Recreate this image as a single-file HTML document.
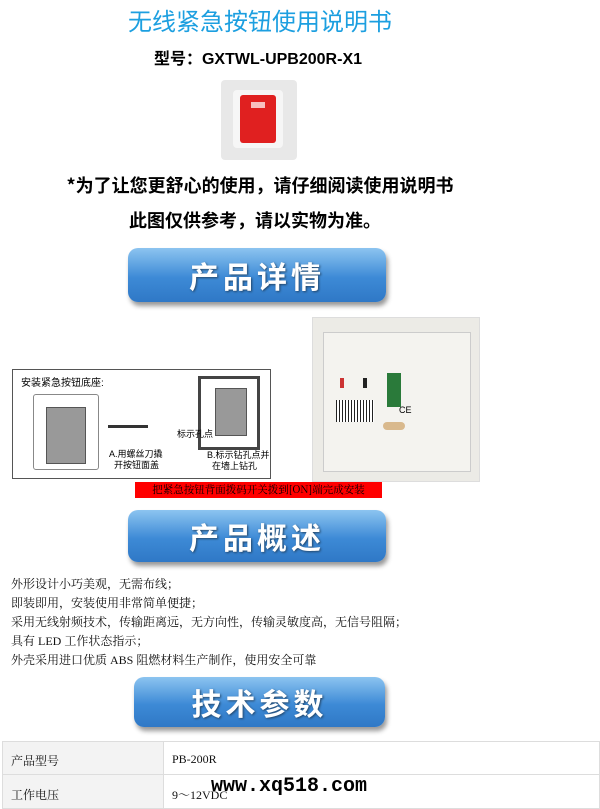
<!DOCTYPE html>
<html><head><meta charset="utf-8"><style>
body{margin:0;width:600px;height:808px;background:#fff;position:relative;overflow:hidden;font-family:"Liberation Sans","Noto Sans CJK SC",sans-serif}
.a{position:absolute}
.btn{position:absolute;border-radius:10px;background:linear-gradient(#8cc4f0,#3d8ad6 55%,#2f78c6);box-shadow:2px 4px 5px #999;color:#fff;font-weight:bold;text-align:center;font-family:"Noto Sans CJK SC",sans-serif;letter-spacing:4px;text-shadow:1px 1px 2px #246}
.t{font-family:"Liberation Serif","Noto Serif CJK SC",serif;font-size:12px;color:#111}
.n{white-space:nowrap}
</style></head><body>
<div class="a" style="left:0;width:520px;top:2px;text-align:center;font-size:24px;color:#1c9fe0;font-family:'Noto Sans CJK SC',sans-serif">无线紧急按钮使用说明书</div>
<div class="a" style="left:0;width:516px;top:45px;text-align:center;font-size:16px;font-weight:bold">型号：GXTWL-UPB200R-X1</div>
<div class="a" style="left:221px;top:80px;width:76px;height:80px;background:#e8e8e8;border-radius:4px">
 <div class="a" style="left:12px;top:10px;width:50px;height:58px;background:#f6f6f6;border-radius:4px"></div>
 <div class="a" style="left:19px;top:15px;width:36px;height:48px;background:#e02020;border-radius:3px"></div>
 <div class="a" style="left:30px;top:22px;width:14px;height:6px;background:#f8c0c0"></div>
</div>
<div class="a" style="left:40px;width:440px;top:172px;text-align:center;font-size:18px;font-weight:bold;font-family:'Noto Sans CJK SC',sans-serif">*为了让您更舒心的使用，请仔细阅读使用说明书</div>
<div class="a" style="left:0;width:510px;top:207px;text-align:center;font-size:18px;font-weight:bold;font-family:'Noto Sans CJK SC',sans-serif">此图仅供参考，请以实物为准。</div>
<div class="btn" style="left:128px;top:248px;width:258px;height:54px;line-height:54px;font-size:30px">产品详情</div>
<div class="a" style="left:12px;top:369px;width:257px;height:108px;border:1px solid #555;background:#fff">
 <div class="a n" style="left:8px;top:4px;font-size:10px">安装紧急按钮底座:</div>
 <div class="a" style="left:20px;top:24px;width:64px;height:74px;border:1px solid #888;border-radius:3px"></div>
 <div class="a" style="left:33px;top:37px;width:38px;height:55px;background:#999;border:1px solid #555"></div>
 <div class="a" style="left:95px;top:55px;width:40px;height:3px;background:#333"></div>
 <div class="a n" style="left:96px;top:79px;font-size:9px;line-height:11px">A.用螺丝刀撬<br>&nbsp;&nbsp;开按钮面盖</div>
 <div class="a" style="left:212px;top:6px;width:56px;height:68px;border:3px solid #444;margin-left:-27px"></div>
 <div class="a" style="left:202px;top:18px;width:30px;height:46px;background:#999;border:1px solid #555"></div>
 <div class="a n" style="left:164px;top:57px;font-size:9px">标示孔点</div>
 <div class="a n" style="left:194px;top:80px;font-size:9px;line-height:11px">B.标示钻孔点并<br>&nbsp;&nbsp;在墙上钻孔</div>
</div>
<div class="a" style="left:312px;top:317px;width:166px;height:163px;background:#ecebe6;border:1px solid #ddd">
 <div class="a" style="left:10px;top:14px;width:146px;height:138px;background:#f4f3ef;border:1px solid #ccc"></div>
 <div class="a" style="left:70px;top:104px;width:22px;height:8px;background:#d9b98d;border-radius:4px"></div>
 <div class="a" style="left:27px;top:60px;width:4px;height:10px;background:#c33"></div>
 <div class="a" style="left:50px;top:60px;width:4px;height:10px;background:#222"></div>
 <div class="a" style="left:74px;top:55px;width:14px;height:34px;background:#2a7a3a"></div>
 <div class="a" style="left:23px;top:82px;width:38px;height:22px;background:repeating-linear-gradient(90deg,#222 0 1px,#fff 1px 3px)"></div>
 <div class="a" style="left:86px;top:87px;font-size:9px">CE</div>
</div>
<div class="a n" style="left:135px;top:482px;width:247px;height:16px;background:#f00;color:#000;font-size:10.5px;line-height:16px;text-align:center;font-family:'Noto Serif CJK SC',serif;overflow:hidden">把紧急按钮背面拨码开关拨到[ON]端完成安装</div>
<div class="btn" style="left:128px;top:510px;width:258px;height:52px;line-height:52px;font-size:30px">产品概述</div>
<div class="a t" style="left:11px;top:575px;line-height:19px">外形设计小巧美观，无需布线；<br>即装即用，安装使用非常简单便捷；<br>采用无线射频技术，传输距离远，无方向性，传输灵敏度高，无信号阻隔；<br>具有 LED 工作状态指示；<br>外壳采用进口优质 ABS 阻燃材料生产制作，使用安全可靠</div>
<div class="btn" style="left:134px;top:677px;width:251px;height:50px;line-height:50px;font-size:30px">技术参数</div>
<div class="a" style="left:2px;top:741px;width:596px;height:66px;border:1px solid #ddd">
 <div class="a" style="left:0;top:0;width:160px;height:66px;background:#f3f3f3;border-right:1px solid #ddd"></div>
 <div class="a" style="left:0;top:32px;width:596px;border-top:1px solid #ddd"></div>
 <div class="a t" style="left:8px;top:10px">产品型号</div>
 <div class="a t" style="left:169px;top:10px">PB-200R</div>
 <div class="a t" style="left:8px;top:44px">工作电压</div>
 <div class="a t" style="left:169px;top:44px">9～12VDC</div>
 <div class="a" style="left:208px;top:33px;font-size:20px;font-weight:bold;font-family:'Liberation Mono',monospace">www.xq518.com</div>
</div>
</body></html>
